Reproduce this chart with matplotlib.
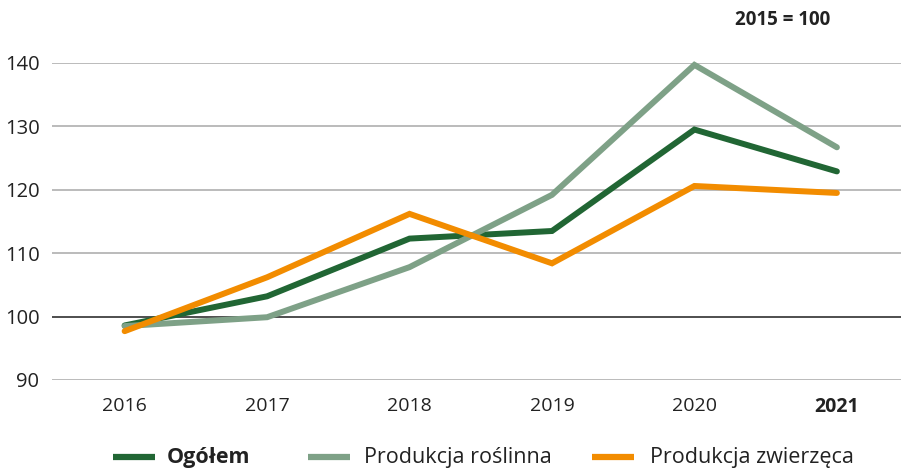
import matplotlib
matplotlib.use("Agg")
import matplotlib.pyplot as plt
from matplotlib.lines import Line2D

years = ["2016", "2017", "2018", "2019", "2020", "2021"]
ogolem = [98.6, 103.2, 112.3, 113.5, 129.5, 122.9]
roslinna = [98.5, 99.9, 107.8, 119.2, 139.7, 126.7]
zwierzeca = [97.7, 106.2, 116.2, 108.4, 120.6, 119.5]
series_names = ["Ogółem", "Produkcja roślinna", "Produkcja zwierzęca"]
colors = ["#216634", "#7ea187", "#f28c00"]
yticks = [90, 100, 110, 120, 130, 140]

plt.rcParams['font.family'] = ['Open Sans', 'DejaVu Sans']

W, H = 901, 469
fig = plt.figure(figsize=(W / 100, H / 100), dpi=100)
ax = fig.add_axes([0.0577, 0.1898, 0.9423, 0.6759])

x = list(range(len(years)))
for vals, c, name in zip([ogolem, roslinna, zwierzeca], colors, series_names):
    ax.plot(x, vals, color=c, lw=4.3, solid_capstyle='round', solid_joinstyle='miter',
            label=name, clip_on=False, zorder=3)

ax.set_ylim(90, 140)
ax.set_xlim(-0.51, 5.45)
ax.set_yticks(yticks)
ax.set_yticklabels([str(v) for v in yticks], fontsize=14.5, color='#222222')
ax.set_xticks(x)
ax.set_xticklabels(years, fontsize=14, color='#222222')
ax.get_xticklabels()[-1].set_fontweight('bold')
for v in yticks:
    ax.axhline(v, color='#404040' if v == 100 else '#b5b5b5', lw=1.3, zorder=1)
for s in ax.spines.values():
    s.set_visible(False)
ax.tick_params(axis='x', length=0, pad=12)
ax.tick_params(axis='y', length=0, pad=9)

fig.text(830 / W, 1 - 20 / H, "2015 = 100", fontsize=13.5, fontweight='bold',
         ha='right', va='center', color='#222222')

# manual legend
leg_y = 1 - 457 / H
handle_x = [113, 308, 592]
text_x = [167, 364, 650]
for hx, tx, c, name, i in zip(handle_x, text_x, colors, series_names, range(3)):
    fig.add_artist(Line2D([hx / W, (hx + 42) / W], [leg_y, leg_y], color=c, lw=4.5,
                          solid_capstyle='butt', transform=fig.transFigure))
    fig.text(tx / W, leg_y, name, fontsize=15.5, ha='left', va='center',
             fontweight='bold' if i == 0 else 'normal', color='#222222')

fig.savefig("out.png", dpi=100)
